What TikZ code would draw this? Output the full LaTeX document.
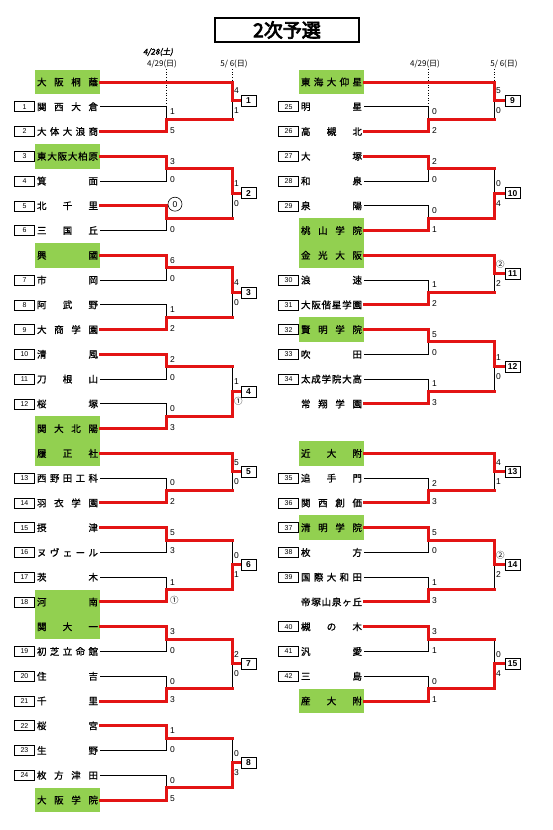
\documentclass[tikz,border=0pt]{standalone}
\usepackage{fontspec}
\setmainfont{Liberation Sans}
\newfontfamily\jp{Noto Sans CJK JP}
\newfontfamily\jpb{Noto Sans CJK JP}[FakeBold=1]
\newfontfamily\jph{Noto Sans CJK JP}[FakeBold=4]
\newfontfamily\jpsl{Noto Sans CJK JP}[FakeBold=2,FakeSlant=0.2]
\usetikzlibrary{positioning,calc}
\definecolor{winred}{HTML}{E31414}
\definecolor{leaf}{HTML}{92D050}
\def\xL{67.5}
\def\xR{331.5}
\newcommand{\nm}[1]{\makebox[61pt][s]{\spaceskip=0pt plus 1fil\relax #1}}
% side, row, entry number, school, extra style
\newcommand{\tm}[5]{%
  \node[team,#5] (#1#2) at ({\csname x#1\endcsname},{82+24.76*#2}) {\nm{#4}};
  \if\relax\detokenize{#3}\relax\else
    \node[numbox,left=0pt of #1#2] (n#1#2) {#3};
  \fi}
% round, top, bottom, column, output, winner (t/b), scores
\newcommand{\game}[8]{%
  \coordinate (#5) at ($(#2 -| #4)!.5!(#3 -| #4)$);
  \if t#6\draw[lost] (#3) -| (#5);\else\draw[lost] (#2) -| (#5);\fi
  \ifnum#1=2 \draw[won] (#2) -- (#2 -| #4); \draw[won] (#3) -- (#3 -| #4);\fi
  \if t#6\draw[won] (#2) -| (#5);\else\draw[won] (#3) -| (#5);\fi
  \ifnum#1=2
    \node[score] (#5t) at ($(#5)+(2,-9.5)$) {#7};
    \node[score] (#5b) at ($(#5)+(2,10)$) {#8};
  \else
    \node[score] (#5t) at ($(#5)+(4,-7.5)$) {#7};
    \node[score] (#5b) at ($(#5)+(4,11)$) {#8};
  \fi}
\newcommand{\res}[3]{%
  \node[resbox] (res#3) at (#1 -| #2) {#3};
  \draw[won,line cap=butt] (#1) -- (res#3.west);}
\tikzset{
  team/.style  ={inner xsep=2pt, inner ysep=0pt, minimum height=24.8pt, font=\jpb\fontsize{9.5}{10}\selectfont},
  seed/.style  ={fill=leaf},
  numbox/.style={draw, line width=.6pt, minimum width=20pt, minimum height=10pt, inner sep=0pt, font=\fontsize{7}{7}\selectfont},
  resbox/.style={draw, line width=.9pt, fill=white, minimum width=15pt, minimum height=11pt, inner sep=0pt, font=\bfseries\fontsize{8.5}{8.5}\selectfont},
  won/.style   ={draw=winred, line width=3pt, line cap=rect},
  lost/.style  ={draw=black, line width=.8pt},
  score/.style ={anchor=west, inner sep=0pt, font=\fontsize{8.5}{8.5}\selectfont},
  ring/.style  ={circle, draw, line width=.6pt, minimum size=14pt, inner sep=0pt, font=\fontsize{8.5}{8.5}\selectfont},
  date/.style  ={font=\jp\fontsize{8}{8}\selectfont, inner sep=1pt},
  dots/.style  ={draw=black, line width=.6pt, dotted},
  title/.style ={draw, line width=2pt, minimum width=144pt, minimum height=24pt, font=\jph\fontsize{19}{19}\selectfont},
}
\begin{document}
\begin{tikzpicture}[x=1pt,y=-1pt]
  \useasboundingbox (0,0) rectangle (552,830);
  \node[title] (ttl) at (287,30) {2次予選};
  \node[date,font=\jpsl\fontsize{8}{8}\selectfont] (dsat) at (158,52) {4/28(土)};
  \node[date] (dL1) at (162,64) {4/29(日)};
  \node[date] (dL2) at (234,64) {5/ 6(日)};
  \node[date] (dR1) at (425,64) {4/29(日)};
  \node[date] (dR2) at (504,64) {5/ 6(日)};

  \coordinate (cL1) at (166,0);
  \coordinate (cL2) at (232,0);
  \coordinate (cLB) at (248.5,0);
  \coordinate (cR1) at (428,0);
  \coordinate (cR2) at (494,0);
  \coordinate (cRB) at (512.5,0);

  % left half
  \tm{L}{0}{}{大 阪 桐 蔭}{seed}
  \tm{L}{1}{1}{関 西 大 倉}{}
  \tm{L}{2}{2}{大 体 大 浪 商}{}
  \tm{L}{3}{3}{東 大 阪 大 柏 原}{seed}
  \tm{L}{4}{4}{箕 面}{}
  \tm{L}{5}{5}{北 千 里}{}
  \tm{L}{6}{6}{三 国 丘}{}
  \tm{L}{7}{}{興 國}{seed}
  \tm{L}{8}{7}{市 岡}{}
  \tm{L}{9}{8}{阿 武 野}{}
  \tm{L}{10}{9}{大 商 学 園}{}
  \tm{L}{11}{10}{清 風}{}
  \tm{L}{12}{11}{刀 根 山}{}
  \tm{L}{13}{12}{桜 塚}{}
  \tm{L}{14}{}{関 大 北 陽}{seed}
  \tm{L}{15}{}{履 正 社}{seed}
  \tm{L}{16}{13}{西 野 田 工 科}{}
  \tm{L}{17}{14}{羽 衣 学 園}{}
  \tm{L}{18}{15}{摂 津}{}
  \tm{L}{19}{16}{ヌ ヴ ェ ー ル}{}
  \tm{L}{20}{17}{茨 木}{}
  \tm{L}{21}{18}{河 南}{seed}
  \tm{L}{22}{}{関 大 一}{seed}
  \tm{L}{23}{19}{初 芝 立 命 館}{}
  \tm{L}{24}{20}{住 吉}{}
  \tm{L}{25}{21}{千 里}{}
  \tm{L}{26}{22}{桜 宮}{}
  \tm{L}{27}{23}{生 野}{}
  \tm{L}{28}{24}{枚 方 津 田}{}
  \tm{L}{29}{}{大 阪 学 院}{seed}

  % right half
  \tm{R}{0}{}{東 海 大 仰 星}{seed}
  \tm{R}{1}{25}{明 星}{}
  \tm{R}{2}{26}{高 槻 北}{}
  \tm{R}{3}{27}{大 塚}{}
  \tm{R}{4}{28}{和 泉}{}
  \tm{R}{5}{29}{泉 陽}{}
  \tm{R}{6}{}{桃 山 学 院}{seed}
  \tm{R}{7}{}{金 光 大 阪}{seed}
  \tm{R}{8}{30}{浪 速}{}
  \tm{R}{9}{31}{大 阪 偕 星 学 園}{}
  \tm{R}{10}{32}{賢 明 学 院}{seed}
  \tm{R}{11}{33}{吹 田}{}
  \tm{R}{12}{34}{太 成 学 院 大 高}{}
  \tm{R}{13}{}{常 翔 学 園}{}
  \tm{R}{15}{}{近 大 附}{seed}
  \tm{R}{16}{35}{追 手 門}{}
  \tm{R}{17}{36}{関 西 創 価}{}
  \tm{R}{18}{37}{清 明 学 院}{seed}
  \tm{R}{19}{38}{枚 方}{}
  \tm{R}{20}{39}{国 際 大 和 田}{}
  \tm{R}{21}{}{帝 塚 山 泉 ヶ 丘}{}
  \tm{R}{22}{40}{槻 の 木}{}
  \tm{R}{23}{41}{汎 愛}{}
  \tm{R}{24}{42}{三 島}{}
  \tm{R}{25}{}{産 大 附}{seed}

  \draw[dots] (dL1.south -| cL1) -- (L1.east -| cL1);
  \draw[dots] (dL2.south -| cL2) -- (L0.east -| cL2);
  \draw[dots] (dR1.south -| cR1) -- (R1.east -| cR1);
  \draw[dots] (dR2.south -| cR2) -- (R0.east -| cR2);

  \game{1}{L1.east}{L2.east}{cL1}{g1a}{b}{1}{5}
  \game{2}{L0.east}{g1a}{cL2}{g1}{t}{4}{1}
  \game{1}{L3.east}{L4.east}{cL1}{g2a}{t}{3}{0}
  \game{1}{L5.east}{L6.east}{cL1}{g2b}{t}{}{0}
  \node[ring] (ko) at ($(g2b)+(9,-14)$) {0};
  \game{2}{g2a}{g2b}{cL2}{g2}{t}{1}{0}
  \game{1}{L7.east}{L8.east}{cL1}{g3a}{t}{6}{0}
  \game{1}{L9.east}{L10.east}{cL1}{g3b}{b}{1}{2}
  \game{2}{g3a}{g3b}{cL2}{g3}{t}{4}{0}
  \game{1}{L11.east}{L12.east}{cL1}{g4a}{t}{2}{0}
  \game{1}{L13.east}{L14.east}{cL1}{g4b}{b}{0}{3}
  \game{2}{g4a}{g4b}{cL2}{g4}{b}{1}{{\jp ①}}
  \game{1}{L16.east}{L17.east}{cL1}{g5a}{b}{0}{2}
  \game{2}{L15.east}{g5a}{cL2}{g5}{t}{5}{0}
  \game{1}{L18.east}{L19.east}{cL1}{g6a}{t}{5}{3}
  \game{1}{L20.east}{L21.east}{cL1}{g6b}{b}{1}{{\jp ①}}
  \game{2}{g6a}{g6b}{cL2}{g6}{b}{0}{1}
  \game{1}{L22.east}{L23.east}{cL1}{g7a}{t}{3}{0}
  \game{1}{L24.east}{L25.east}{cL1}{g7b}{b}{0}{3}
  \game{2}{g7a}{g7b}{cL2}{g7}{t}{2}{0}
  \game{1}{L26.east}{L27.east}{cL1}{g8a}{t}{1}{0}
  \game{1}{L28.east}{L29.east}{cL1}{g8b}{b}{0}{5}
  \game{2}{g8a}{g8b}{cL2}{g8}{b}{0}{3}

  \game{1}{R1.east}{R2.east}{cR1}{g9a}{b}{0}{2}
  \game{2}{R0.east}{g9a}{cR2}{g9}{t}{5}{0}
  \game{1}{R3.east}{R4.east}{cR1}{g10a}{t}{2}{0}
  \game{1}{R5.east}{R6.east}{cR1}{g10b}{b}{0}{1}
  \game{2}{g10a}{g10b}{cR2}{g10}{b}{0}{4}
  \game{1}{R8.east}{R9.east}{cR1}{g11a}{b}{1}{2}
  \game{2}{R7.east}{g11a}{cR2}{g11}{t}{{\jp ②}}{2}
  \game{1}{R10.east}{R11.east}{cR1}{g12a}{t}{5}{0}
  \game{1}{R12.east}{R13.east}{cR1}{g12b}{b}{1}{3}
  \game{2}{g12a}{g12b}{cR2}{g12}{t}{1}{0}
  \game{1}{R16.east}{R17.east}{cR1}{g13a}{b}{2}{3}
  \game{2}{R15.east}{g13a}{cR2}{g13}{t}{4}{1}
  \game{1}{R18.east}{R19.east}{cR1}{g14a}{t}{5}{0}
  \game{1}{R20.east}{R21.east}{cR1}{g14b}{b}{1}{3}
  \game{2}{g14a}{g14b}{cR2}{g14}{t}{{\jp ②}}{2}
  \game{1}{R22.east}{R23.east}{cR1}{g15a}{t}{3}{1}
  \game{1}{R24.east}{R25.east}{cR1}{g15b}{b}{0}{1}
  \game{2}{g15a}{g15b}{cR2}{g15}{b}{0}{4}

  \res{g1}{cLB}{1}
  \res{g2}{cLB}{2}
  \res{g3}{cLB}{3}
  \res{g4}{cLB}{4}
  \res{g5}{cLB}{5}
  \res{g6}{cLB}{6}
  \res{g7}{cLB}{7}
  \res{g8}{cLB}{8}
  \res{g9}{cRB}{9}
  \res{g10}{cRB}{10}
  \res{g11}{cRB}{11}
  \res{g12}{cRB}{12}
  \res{g13}{cRB}{13}
  \res{g14}{cRB}{14}
  \res{g15}{cRB}{15}
\end{tikzpicture}
\end{document}
